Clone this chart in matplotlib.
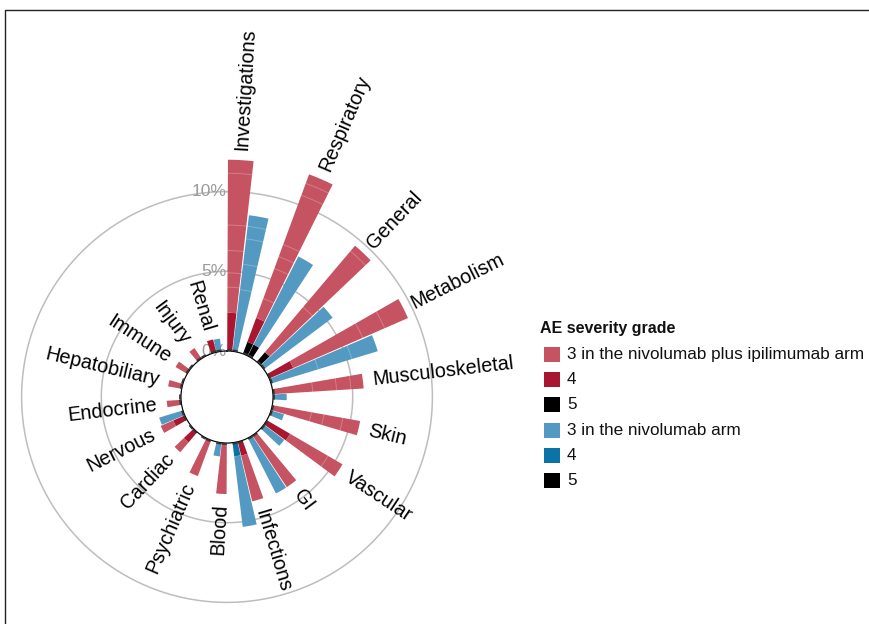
import numpy as np
import matplotlib.pyplot as plt
from matplotlib.patches import Rectangle
from matplotlib.lines import Line2D

plt.rcParams['font.family'] = ['Liberation Sans', 'DejaVu Sans']

# Grade 3-5 adverse events by system organ class (% of patients)
categories = ["Investigations", "Respiratory", "General", "Metabolism",
              "Musculoskeletal", "Skin", "Vascular", "GI", "Infections",
              "Blood", "Psychiatric", "Cardiac", "Nervous", "Endocrine",
              "Hepatobiliary", "Immune", "Injury", "Renal"]

# nivolumab plus ipilimumab arm
combo_g3 = [9.6, 9.6, 8.75, 7.85, 5.7, 5.6, 3.8, 3.9, 2.95, 3.2,
            2.4, 0.8, 0.85, 0.9, 0.87, 0.85, 0.8, 0.0]
combo_g4 = [2.4, 1.6, 0.0, 1.65, 0.0, 0.0, 1.7, 0.0, 0.9, 0.0,
            0.0, 0.85, 0.8, 0.0, 0.0, 0.0, 0.0, 0.83]
combo_g5 = [0.0, 0.8, 0.8, 0.0, 0.0, 0.0, 0.0, 0.0, 0.0, 0.0,
            0.0, 0.0, 0.0, 0.0, 0.0, 0.0, 0.0, 0.0]

# nivolumab arm
nivo_g3 = [8.6, 6.2, 5.4, 7.0, 0.86, 0.85, 1.6, 3.9, 4.45, 0.87,
           0.0, 0.0, 1.56, 0.0, 0.0, 0.0, 0.0, 0.8]
nivo_g4 = [0.0, 0.0, 0.0, 0.0, 0.0, 0.0, 0.0, 0.0, 0.87, 0.0,
           0.0, 0.0, 0.0, 0.0, 0.0, 0.0, 0.0, 0.0]
nivo_g5 = [0.0, 0.8, 0.0, 0.0, 0.0, 0.0, 0.0, 0.0, 0.0, 0.0,
           0.0, 0.0, 0.0, 0.0, 0.0, 0.0, 0.0, 0.0]

# cumulative boundaries between individual event terms inside each bar
combo_breaks = [[4.0, 4.9, 6.3, 7.9, 11.15], [3.7, 5.7, 6.5, 7.3, 10.6, 11.4],
                [4.5, 9.1], [6.4, 7.9], [2.5, 4.0, 4.9], [2.5, 3.3, 4.5],
                [4.45], [], [], [], [], [], [], [], [], [], [], []]
nivo_breaks = [[3.9, 5.5, 7.1, 7.9], [], [], [3.1, 5.3], [], [], [], [], [],
               [], [], [], [], [], [], [], [], []]

ring_levels = [0, 5, 10]

legend_labels = ["3 in the nivolumab plus ipilimumab arm", "4", "5",
                 "3 in the nivolumab arm", "4", "5"]

combo_colors = ["#c55361", "#a8172f", "#000000"]
nivo_colors = ["#5499c1", "#0c73a6", "#000000"]

W, H = 869, 624
fig = plt.figure(figsize=(W / 100, H / 100), dpi=100)

# polar panel geometry (pixels)
cx, cy = 227, 397
hole_px = 46.0
px_per_pct = 15.94
rmax = 13.0
R = hole_px + rmax * px_per_pct
ax = fig.add_axes([(cx - R) / W, (H - cy - R) / H, 2 * R / W, 2 * R / H],
                  projection='polar')
ax.set_theta_zero_location('N')
ax.set_theta_direction(-1)
ax.set_ylim(0, rmax)
ax.set_rorigin(-hole_px / px_per_pct)
ax.set_xticks([])
ax.set_yticks([])
ax.grid(False)
for sp in ax.spines.values():
    sp.set_visible(False)
ax.patch.set_alpha(0)

# reference rings
tt = np.linspace(0, 2 * np.pi, 721)
for lv in ring_levels:
    ax.plot(tt, np.full_like(tt, lv), color="#bdbdbd", lw=1.1, zorder=1)
    ax.text(0, lv, f"{lv}%", ha='right', va='center', color="#9b9b9b",
            fontsize=12.5, zorder=1)

n = len(categories)
step = 360.0 / n
bar_w = np.deg2rad(6.2)
for i in range(n):
    th_c = np.deg2rad(step * i + step / 6)
    th_n = np.deg2rad(step * i + step / 2)
    for th, vals, cols, brks in (
            (th_c, (combo_g5[i], combo_g4[i], combo_g3[i]), combo_colors[::-1], combo_breaks[i]),
            (th_n, (nivo_g5[i], nivo_g4[i], nivo_g3[i]), nivo_colors[::-1], nivo_breaks[i])):
        base = 0.0
        for v, c in zip(vals, cols):
            if v > 0:
                ax.bar(th, v, width=bar_w, bottom=base, color=c, lw=0,
                       align='center', zorder=2)
            base += v
        # faint separators between event terms
        arc = np.linspace(th - bar_w / 2, th + bar_w / 2, 8)
        for b in brks:
            ax.plot(arc, np.full_like(arc, b), color="white", alpha=0.25,
                    lw=0.7, zorder=2.5)
        # dark base tick
        ax.bar(th, 0.12, width=bar_w, bottom=0, color="#333333", lw=0, zorder=3)

    # category label beyond the combination-arm bar
    deg = step * i + step / 6
    rr = combo_g3[i] + combo_g4[i] + combo_g5[i] + 0.6
    if deg < 180:
        rot, ha = 90 - deg, 'left'
    else:
        rot, ha = 270 - deg, 'right'
    ax.text(th_c, rr, categories[i], rotation=rot, rotation_mode='anchor',
            ha=ha, va='center', fontsize=14.3, color="#000000", zorder=4)

# legend
fig.text(540 / W, 1 - 328 / H, "AE severity grade", fontsize=11.5,
         fontweight='bold', ha='left', va='center', color="#111111")
legend_colors = combo_colors + nivo_colors
for k, (lab, col) in enumerate(zip(legend_labels, legend_colors)):
    yc = 354.5 + 25.2 * k
    fig.add_artist(Rectangle((544 / W, 1 - (yc + 7.5) / H), 16 / W, 15 / H,
                             transform=fig.transFigure, color=col, lw=0))
    fig.text(567 / W, 1 - yc / H, lab, fontsize=12.3, ha='left', va='center',
             color="#111111")

# frame
fig.add_artist(Line2D([5 / W, 5 / W, 1.0], [0.0, 1 - 10 / H, 1 - 10 / H],
                      transform=fig.transFigure, color="#222222", lw=1.0))

fig.savefig("out.png", dpi=100)
